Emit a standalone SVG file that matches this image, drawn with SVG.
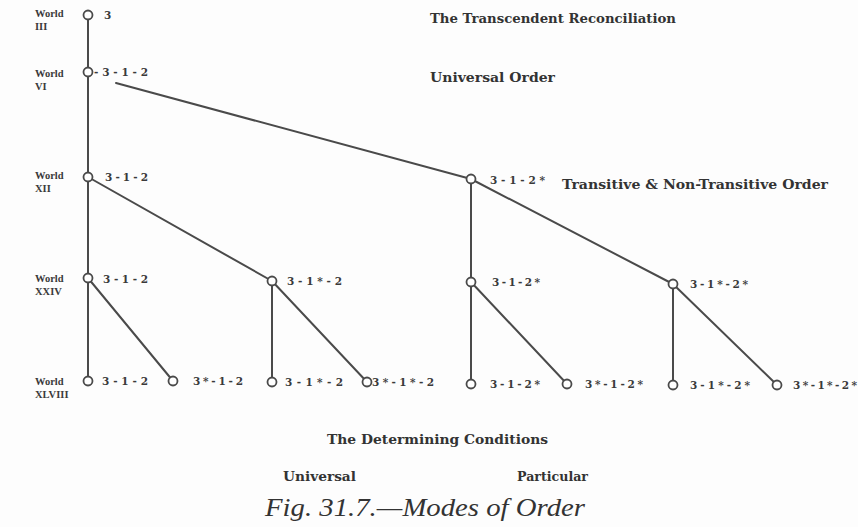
<svg xmlns="http://www.w3.org/2000/svg" width="858" height="527" viewBox="0 0 858 527">
<style>
.bg{fill:#fdfdfd}
.ln{stroke:#4a4a4a;stroke-width:2;fill:none;stroke-linecap:round}
.nd{fill:#fff;stroke:#4a4a4a;stroke-width:1.8}
.w{font-family:"Liberation Serif",serif;font-size:10.5px;font-weight:bold;fill:#3a3a3a}
.lb{font-family:"DejaVu Serif","Liberation Serif",serif;font-size:10.5px;font-weight:bold;fill:#3a3a3a}
.hd{font-family:"DejaVu Serif","Liberation Serif",serif;font-size:12.5px;font-weight:bold;fill:#333}
.cap{font-family:"Liberation Serif",serif;font-size:25px;font-style:italic;fill:#333}
</style>
<rect class="bg" x="0" y="0" width="858" height="527"/>
<g id="connectors">
<line class="ln" x1="88" y1="15" x2="88" y2="381"/>
<line class="ln" x1="116" y1="83" x2="471" y2="179"/>
<line class="ln" x1="88" y1="177" x2="272" y2="281"/>
<line class="ln" x1="272" y1="281" x2="272" y2="382"/>
<line class="ln" x1="272" y1="281" x2="367" y2="382"/>
<line class="ln" x1="88" y1="278" x2="173" y2="381"/>
<line class="ln" x1="471" y1="179" x2="471" y2="384"/>
<line class="ln" x1="471" y1="179" x2="673" y2="284"/>
<line class="ln" x1="471" y1="282" x2="567" y2="384"/>
<line class="ln" x1="673" y1="284" x2="673" y2="385"/>
<line class="ln" x1="673" y1="284" x2="777" y2="385"/>
</g>
<g id="headings">
<text class="hd" x="430" y="23" textLength="246" lengthAdjust="spacingAndGlyphs">The Transcendent Reconciliation</text>
<text class="hd" x="430" y="82" textLength="125" lengthAdjust="spacingAndGlyphs">Universal Order</text>
<text class="hd" x="562" y="189" textLength="266" lengthAdjust="spacingAndGlyphs">Transitive &amp; Non-Transitive Order</text>
<text class="hd" x="327" y="444" textLength="221" lengthAdjust="spacingAndGlyphs">The Determining Conditions</text>
<text class="hd" x="283" y="481" textLength="73" lengthAdjust="spacingAndGlyphs">Universal</text>
<text class="hd" x="517" y="481" textLength="71" lengthAdjust="spacingAndGlyphs">Particular</text>
<text class="cap" x="265" y="516" textLength="320" lengthAdjust="spacingAndGlyphs">Fig. 31.7.—Modes of Order</text>
</g>
<g id="world-III"><text class="w" x="35" y="17">World</text><text class="w" x="35" y="29.5">III</text></g>
<g id="world-VI"><text class="w" x="35" y="77">World</text><text class="w" x="35" y="89.5">VI</text></g>
<g id="world-XII"><text class="w" x="35" y="179">World</text><text class="w" x="35" y="191.5">XII</text></g>
<g id="world-XXIV"><text class="w" x="35" y="282">World</text><text class="w" x="35" y="294.5">XXIV</text></g>
<g id="world-XLVIII"><text class="w" x="35" y="385">World</text><text class="w" x="35" y="397.5">XLVIII</text></g>
<g id="n3"><circle class="nd" cx="88" cy="15" r="4.5"/><text class="lb" x="104" y="19">3</text></g>
<g id="n6"><circle class="nd" cx="88" cy="72" r="4.5"/><text class="lb" x="94" y="76" textLength="54" lengthAdjust="spacing">-3-1-2</text></g>
<g id="n12a"><circle class="nd" cx="88" cy="177" r="4.5"/><text class="lb" x="105" y="181" textLength="43" lengthAdjust="spacing">3-1-2</text></g>
<g id="n12b"><circle class="nd" cx="471" cy="179" r="4.5"/><text class="lb" x="490" y="184" textLength="55" lengthAdjust="spacing">3-1-2*</text></g>
<g id="n24a"><circle class="nd" cx="88" cy="278" r="4.5"/><text class="lb" x="103" y="283" textLength="45" lengthAdjust="spacing">3-1-2</text></g>
<g id="n24b"><circle class="nd" cx="272" cy="281" r="4.5"/><text class="lb" x="287" y="285" textLength="55" lengthAdjust="spacing">3-1*-2</text></g>
<g id="n24c"><circle class="nd" cx="471" cy="282" r="4.5"/><text class="lb" x="492" y="286" textLength="48" lengthAdjust="spacing">3-1-2*</text></g>
<g id="n24d"><circle class="nd" cx="673" cy="284" r="4.5"/><text class="lb" x="690" y="288" textLength="58" lengthAdjust="spacing">3-1*-2*</text></g>
<g id="n48a"><circle class="nd" cx="88" cy="381" r="4.5"/><text class="lb" x="102" y="385" textLength="46" lengthAdjust="spacing">3-1-2</text></g>
<g id="n48b"><circle class="nd" cx="173" cy="381" r="4.5"/><text class="lb" x="193" y="385" textLength="50" lengthAdjust="spacing">3*-1-2</text></g>
<g id="n48c"><circle class="nd" cx="272" cy="382" r="4.5"/><text class="lb" x="285" y="386" textLength="58" lengthAdjust="spacing">3-1*-2</text></g>
<g id="n48d"><circle class="nd" cx="367" cy="382" r="4.5"/><text class="lb" x="372" y="386" textLength="62" lengthAdjust="spacing">3*-1*-2</text></g>
<g id="n48e"><circle class="nd" cx="471" cy="384" r="4.5"/><text class="lb" x="490" y="388" textLength="50" lengthAdjust="spacing">3-1-2*</text></g>
<g id="n48f"><circle class="nd" cx="567" cy="384" r="4.5"/><text class="lb" x="585" y="388" textLength="58" lengthAdjust="spacing">3*-1-2*</text></g>
<g id="n48g"><circle class="nd" cx="673" cy="385" r="4.5"/><text class="lb" x="690" y="389" textLength="60" lengthAdjust="spacing">3-1*-2*</text></g>
<g id="n48h"><circle class="nd" cx="777" cy="385" r="4.5"/><text class="lb" x="793" y="389" textLength="64" lengthAdjust="spacing">3*-1*-2*</text></g>
</svg>
